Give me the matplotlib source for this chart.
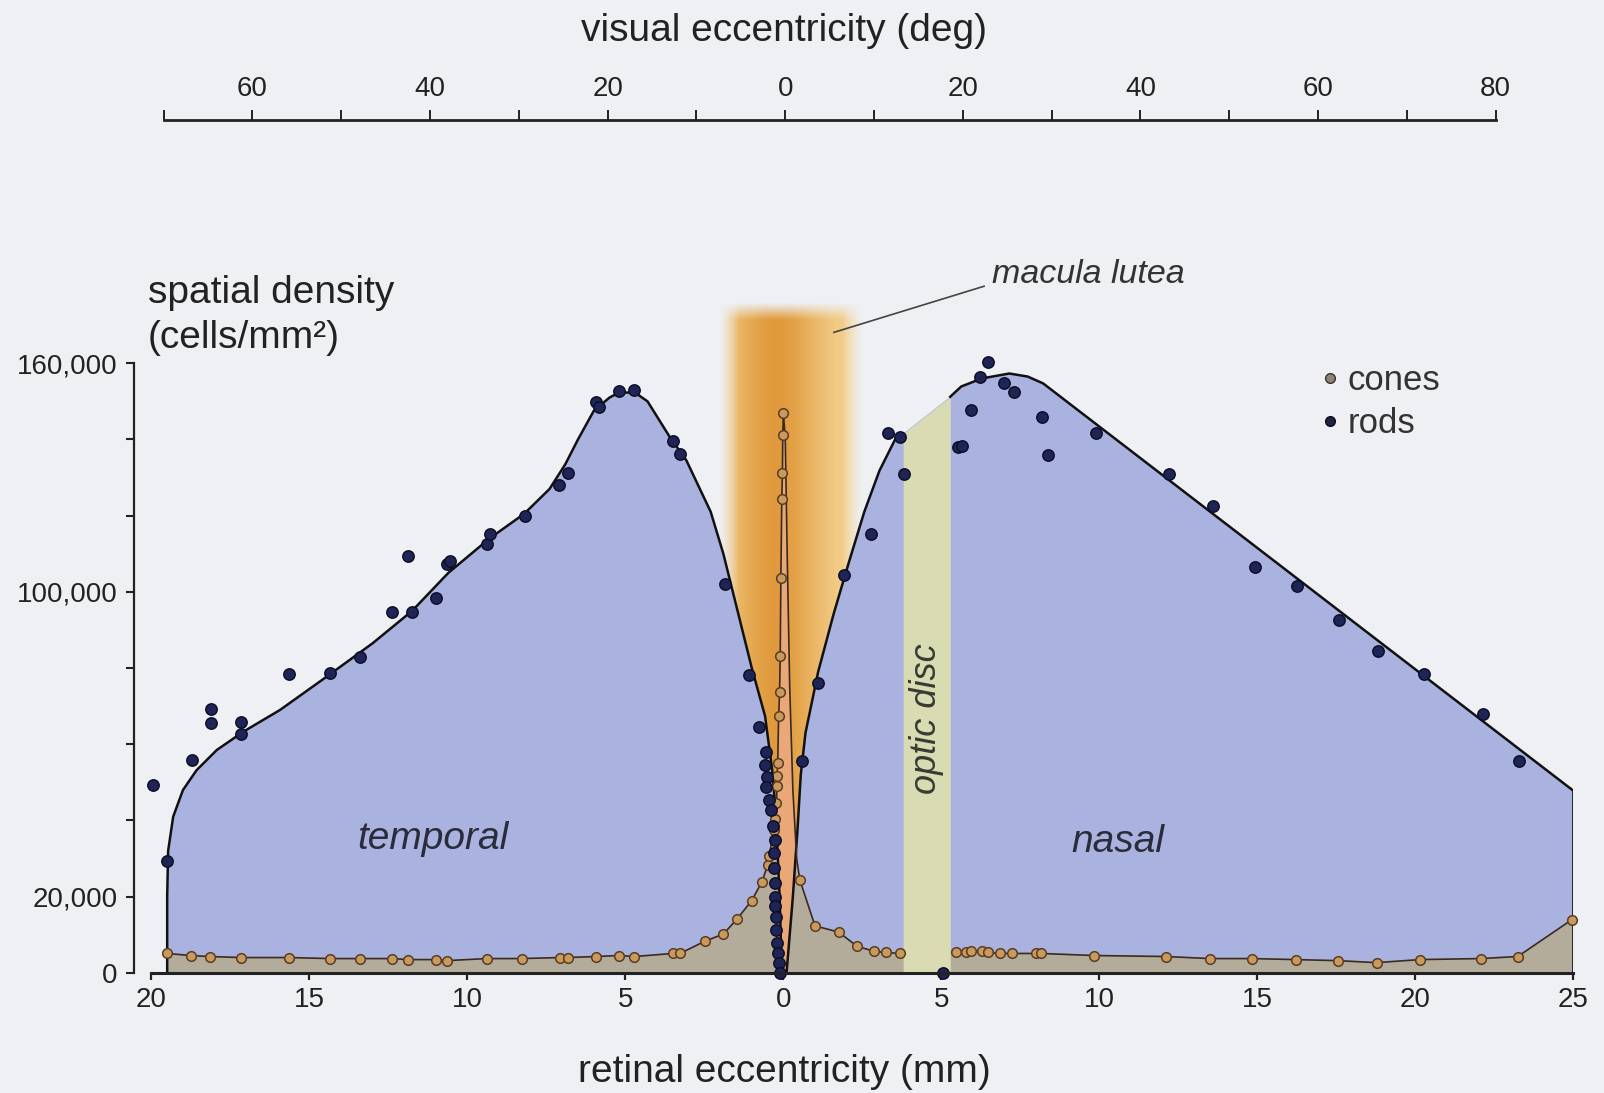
import numpy as np
import matplotlib
matplotlib.use('Agg')
import matplotlib.pyplot as plt
from matplotlib.lines import Line2D

plt.rcParams['font.family'] = ['Liberation Sans', 'DejaVu Sans']

# ---- data (retinal eccentricity in mm: temporal < 0 < nasal) ----
rods_x = [-19.94, -19.5, -18.7, -18.1, -18.1, -17.15, -17.15, -15.66, -14.34, -13.4,
          -12.4, -11.88, -11.75, -11.0, -10.65, -10.55, -9.39, -9.29, -8.19, -7.09,
          -6.83, -5.92, -5.83, -5.21, -4.72, -3.5, -3.27, -1.84, -1.10,
          -0.77, -0.54, -0.58, -0.52, -0.55, -0.47, -0.38, -0.33, -0.27, -0.3, -0.3,
          -0.28, -0.27, -0.25, -0.22, -0.22, -0.2, -0.18, -0.15, -0.12,
          0.6, 1.10, 1.91, 2.78, 3.30, 3.69, 3.82, 5.05, 5.53, 5.66, 5.95, 6.21, 6.47,
          6.99, 7.31, 8.19, 8.38, 9.90, 12.20, 13.59, 14.92, 16.25, 17.57, 18.83,
          20.26, 22.14, 23.27]
rods_y = [49400, 29300, 55900, 69300, 65500, 65800, 62800, 78400, 78700, 83000,
          94800, 109300, 94800, 98300, 107400, 108200, 112500, 115200, 119800, 128100,
          131300, 149800, 148500, 152800, 153000, 139600, 136100, 102000, 78100,
          64600, 58000, 54500, 51300, 48700, 45500, 42700, 38500, 34900, 31500, 27500,
          23500, 20000, 17500, 14800, 11300, 7800, 5200, 2600, 0,
          55500, 76000, 104500, 115200, 141800, 140700, 131000, 0, 138000, 138300,
          147700, 156500, 160300, 154900, 152500, 145800, 135900, 141800, 130800,
          122400, 106600, 101500, 92600, 84600, 78400, 67900, 55600]

cones_x = [-19.51, -18.74, -18.16, -17.15, -15.66, -14.34, -13.40, -12.39, -11.88, -11.0,
           -10.65, -9.39, -8.28, -7.06, -6.83, -5.92, -5.21, -4.72, -3.50, -3.27,
           -2.49, -1.9, -1.46, -1.0, -0.68,
           -0.5, -0.45, -0.3, -0.25, -0.22, -0.2, -0.2, -0.18, -0.15, -0.12, -0.1,
           -0.08, -0.05, -0.03, -0.02, 0.0,
           0.52, 1.0, 1.75, 2.33, 2.88, 3.24, 3.69,
           5.47, 5.79, 5.95, 6.28, 6.47, 6.86, 7.25, 7.99, 8.16, 9.84, 12.1, 13.5,
           14.82, 16.21, 17.54, 18.77, 20.13, 22.07, 23.24, 24.95]
cones_y = [5100, 4560, 4300, 4030, 4030, 3760, 3760, 3760, 3490, 3490,
           3220, 3760, 3760, 4030, 4030, 4300, 4560, 4300, 5100, 5100,
           8300, 10200, 14200, 19000, 23900,
           28200, 30600, 37600, 40500, 44600, 49100, 51600, 55000, 67400, 73800, 83200,
           103600, 124300, 131300, 141200, 147000,
           24400, 12350, 10700, 7000, 5640, 5370, 5100,
           5370, 5370, 5640, 5640, 5370, 5100, 5100, 5100, 5100, 4560, 4300, 3760,
           3760, 3490, 3220, 2690, 3490, 3760, 4300, 13960]

# fitted rod envelope (temporal part, then nasal part on both sides of the optic disc)
rod_left_x = [-19.5, -19.5, -19.47, -19.31, -19.0, -18.57, -17.93, -17.09, -15.93, -14.46,
              -13.0, -11.75, -10.6, -9.3, -8.2, -7.4, -6.9, -6.5, -6.0, -5.5, -5.2, -4.7,
              -4.3, -3.6, -3.07, -2.3, -1.9, -1.42, -1.0, -0.58, -0.35, -0.23, -0.12, -0.05]
rod_left_y = [0, 20000, 32000, 41000, 48000, 53200, 58500, 63300, 69000, 77700,
              86500, 95000, 105000, 114000, 120500, 127000, 133500, 140000, 147500, 151000, 152300, 152300,
              150000, 140700, 134500, 121000, 110000, 94000, 80000, 67400, 53000, 40500, 20000, 0]
rod_mid_x = [0.1, 0.3, 0.45, 0.55, 0.7, 1.1, 1.59, 2.07, 2.56, 3.04, 3.53, 3.79]
rod_mid_y = [0, 20000, 38000, 52000, 63000, 79000, 94200, 107700, 121000, 131800, 139900, 141500]
rod_right_x = [5.28, 5.63, 6.28, 7.15, 7.73, 8.22, 25.0, 25.0]
rod_right_y = [151200, 153900, 156000, 157300, 156500, 154700, 47800, 0]

# falling flank of the foveal cone peak (no samples drawn on it)
spike_x = [0.06, 0.12, 0.2, 0.3, 0.42]
spike_y = [140000, 110000, 75000, 48000, 30000]

disc_x = [3.79, 5.28]
disc_top = [141500, 151200]
macula = (-2.05, 2.5, 176500)

bottom_ticks = [-20, -15, -10, -5, 0, 5, 10, 15, 20, 25]
y_ticks = [0, 20000, 40000, 60000, 80000, 100000, 120000, 140000, 160000]
y_ticklabels = ['0', '20,000', '', '', '', '100,000', '', '', '160,000']
deg_major = [-60, -40, -20, 0, 20, 40, 60, 80]
deg_minor = [-70, -50, -30, -10, 10, 30, 50, 70]

# ---- figure ----
bg = '#eef0f4'
fig = plt.figure(figsize=(16.04, 10.93), dpi=100)
fig.patch.set_facecolor(bg)
ax = fig.add_axes([0.08354, 0.10988, 0.89738, 0.66240])
ax.set_facecolor(bg)

# macula lutea band (orange gradient)
nx, ny = 300, 120
u = np.linspace(0, 1, nx)
v = np.linspace(0, 1, ny)
edge = np.array([0.97, 0.84, 0.58])
core = np.array([0.88, 0.59, 0.20])
w = np.exp(-((u - 0.40) / 0.34) ** 2)
rgb = (1 - w)[:, None] * edge + w[:, None] * core
a_h = np.clip(np.minimum(u, 1 - u) / 0.14, 0, 1) ** 1.2
a_v = np.clip((1 - v) / 0.025, 0, 1)
img = np.zeros((ny, nx, 4))
img[..., :3] = rgb[None, :, :]
img[..., 3] = a_v[:, None] * a_h[None, :] * 0.95
ax.imshow(img, extent=[macula[0], macula[1], 0, macula[2]], origin='lower',
          aspect='auto', zorder=1, interpolation='bilinear')

rod_fill_x = rod_left_x + rod_mid_x + rod_right_x
rod_fill_y = rod_left_y + rod_mid_y + rod_right_y
ax.fill(rod_fill_x, rod_fill_y, color='#aab2e0', lw=0, zorder=2)

# cone curve (sorted samples + falling flank)
pts = sorted(zip(cones_x, cones_y))
cone_line_x = [p[0] for p in pts if p[0] <= 0] + spike_x + [p[0] for p in pts if p[0] > 0]
cone_line_y = [p[1] for p in pts if p[0] <= 0] + spike_y + [p[1] for p in pts if p[0] > 0]
ax.fill_between(cone_line_x, 0, cone_line_y, color='#b4ac9a', lw=0, zorder=3)

# central spike where cones exceed rods
xg = np.linspace(-0.7, 0.6, 500)
rod_g = np.interp(xg, rod_fill_x[:-2] + [25.0], rod_fill_y[:-2] + [47800])
cone_g = np.interp(xg, cone_line_x, cone_line_y)
ax.fill_between(xg, rod_g, cone_g, where=cone_g > rod_g, color='#eaa878', lw=0, zorder=3.2)

# optic disc
ax.fill_between(disc_x, 0, disc_top, color='#d9dcb2', lw=0, zorder=4)

# curves
rl_x = rod_left_x + rod_mid_x + [np.nan] + rod_right_x
rl_y = rod_left_y + rod_mid_y + [np.nan] + rod_right_y
ax.plot(rl_x, rl_y, color='#111111', lw=1.8, zorder=5, solid_joinstyle='round')
gap = [i for i, x in enumerate(cone_line_x) if x > 3.7][0]
cl_x = cone_line_x[:gap] + [np.nan] + cone_line_x[gap:]
cl_y = cone_line_y[:gap] + [np.nan] + cone_line_y[gap:]
ax.plot(cl_x, cl_y, color='#3a2a1e', lw=1.2, zorder=5)

ax.scatter(cones_x, cones_y, s=48, facecolor='#c99a5e', edgecolor='#5b3c20',
           linewidths=1.1, zorder=6, clip_on=False)
ax.scatter(rods_x, rods_y, s=68, facecolor='#1f2456', edgecolor='#0b0d22',
           linewidths=1.0, zorder=7, clip_on=False)

# axes styling
ax.set_xlim(-20.55, 25)
ax.set_ylim(0, 190000)
for s in ['top', 'right']:
    ax.spines[s].set_visible(False)
ax.spines['bottom'].set_bounds(-20, 25)
ax.spines['left'].set_bounds(0, 160000)
ax.spines['bottom'].set_linewidth(2.2)
ax.spines['left'].set_linewidth(1.6)
ax.spines['bottom'].set_color('#222222')
ax.spines['left'].set_color('#222222')
ax.spines['bottom'].set_zorder(8)
ax.set_xticks(bottom_ticks)
ax.set_xticklabels([str(abs(t)) for t in bottom_ticks])
ax.set_yticks(y_ticks)
ax.set_yticklabels(y_ticklabels)
ax.tick_params(axis='x', direction='out', length=5, width=1.6, labelsize=20, pad=5, colors='#222222')
ax.tick_params(axis='y', direction='out', length=6, width=1.5, labelsize=20, pad=6, colors='#222222')

# labels
tc = '#2a2c3a'
ax.text(-11.1, 35200, 'temporal', fontsize=28, style='italic', color=tc, ha='center', va='center', zorder=9)
ax.text(10.59, 34400, 'nasal', fontsize=28, style='italic', color=tc, ha='center', va='center', zorder=9)
ax.text(4.54, 66600, 'optic disc', fontsize=26, style='italic', color='#3a3a34', rotation=90,
        ha='center', va='center', zorder=9)
ax.text(6.6, 183400, 'macula lutea', fontsize=24.5, style='italic', color='#333333',
        ha='left', va='center', clip_on=False)
ax.plot([1.6, 6.35], [168100, 180200], color='#444444', lw=1.2, zorder=9, clip_on=False)

fig.text(784 / 1604, 1 - 1072 / 1093, 'retinal eccentricity (mm)', fontsize=28,
         ha='center', va='center', color='#222222')
fig.text(148 / 1604, 1 - 293 / 1093, 'spatial density', fontsize=28, ha='left', va='center', color='#222222')
fig.text(148 / 1604, 1 - 338 / 1093, '(cells/mm\u00b2)', fontsize=28, ha='left', va='center', color='#222222')

handles = [Line2D([], [], ls='none', marker='o', ms=7, mfc='#8c8478', mec='#3a3028', mew=1.0),
           Line2D([], [], ls='none', marker='o', ms=7, mfc='#1f2240', mec='#0b0d22', mew=1.0)]
ax.legend(handles, ['cones', 'rods'], loc='center left', bbox_to_anchor=(17.01, 149800),
          bbox_transform=ax.transData, frameon=False, fontsize=25, handlelength=0.5,
          handletextpad=0.28, labelspacing=0.3, borderpad=0, borderaxespad=0,
          labelcolor='#333333')

# top axis: visual eccentricity
axt = fig.add_axes([0.10206, 0.8895, 0.83036, 0.001])
axt.patch.set_visible(False)
for s in ['bottom', 'left', 'right']:
    axt.spines[s].set_visible(False)
axt.spines['top'].set_linewidth(2.0)
axt.spines['top'].set_color('#222222')
axt.set_xlim(-70, 80)
axt.set_yticks([])
axt.xaxis.tick_top()
axt.set_xticks(deg_major)
axt.set_xticklabels([str(abs(t)) for t in deg_major])
axt.set_xticks(deg_minor, minor=True)
axt.tick_params(axis='x', which='both', direction='out', length=7, width=1.4,
                labelsize=20, pad=6, colors='#222222')
fig.text(784 / 1604, 1 - 31 / 1093, 'visual eccentricity (deg)', fontsize=28,
         ha='center', va='center', color='#222222')

fig.savefig('out.png', dpi=100, facecolor=bg)
